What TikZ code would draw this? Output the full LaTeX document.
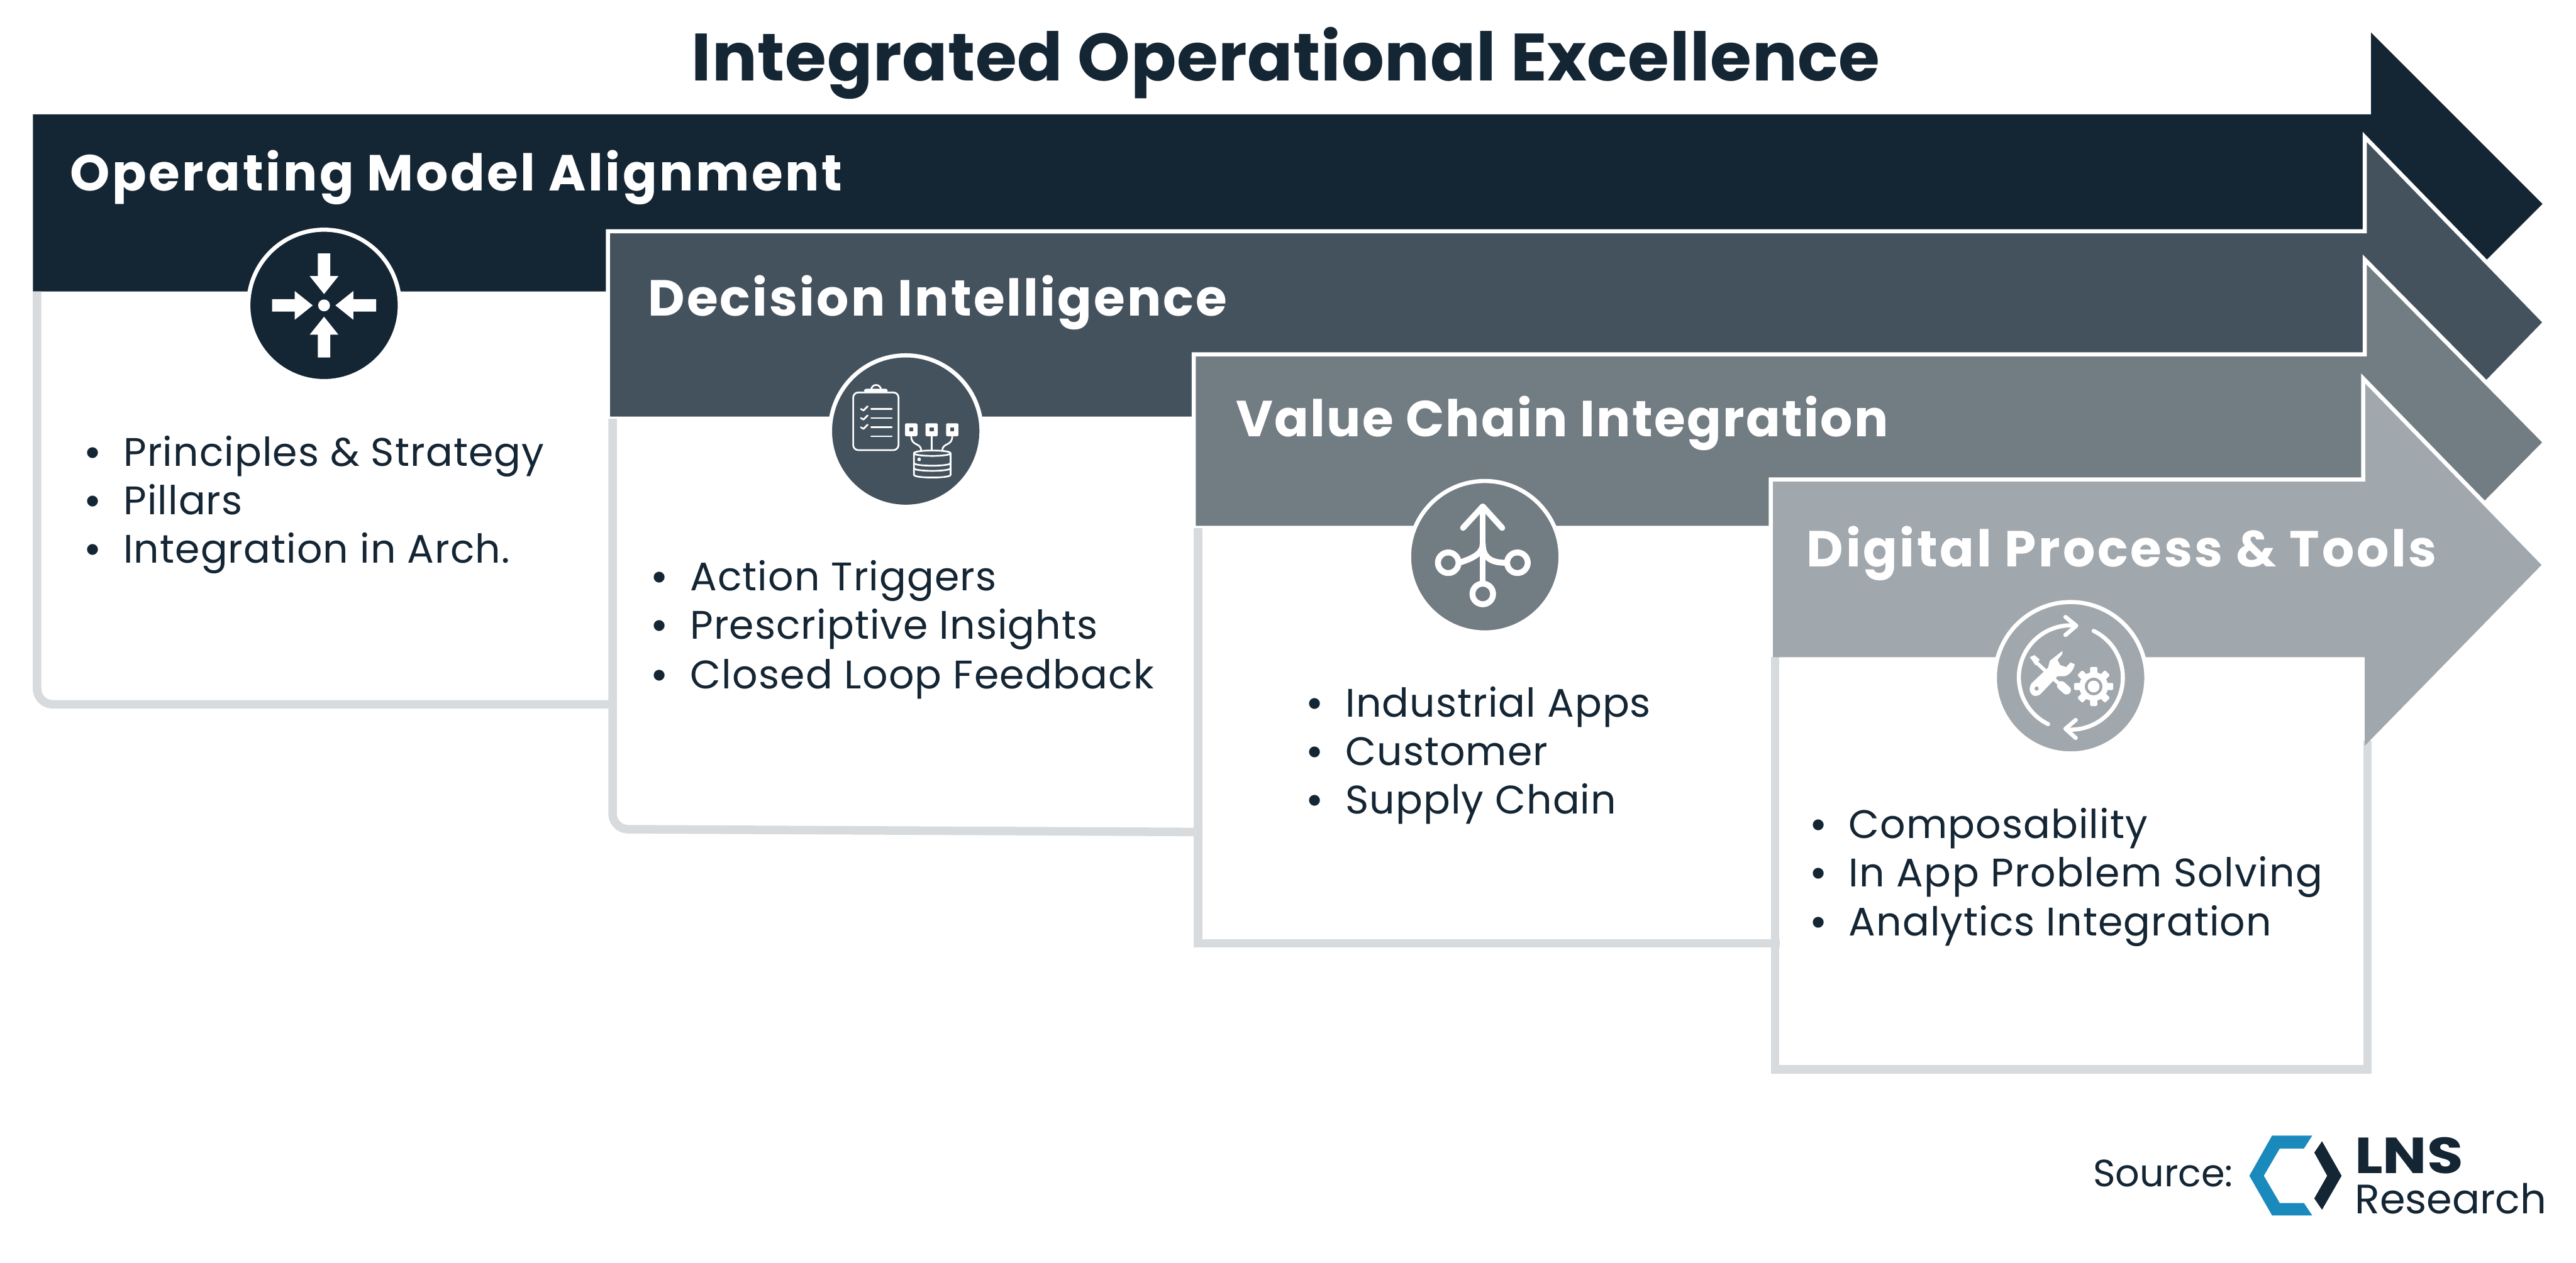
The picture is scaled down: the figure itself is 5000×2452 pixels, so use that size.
\documentclass[tikz,border=0pt]{standalone}
\usepackage{fontspec}
\setmainfont{Poppins}
\newfontfamily\dotfont{Liberation Sans}
\usetikzlibrary{%
  positioning
 ,calc
}
\definecolor{navy}{HTML}{142534}
\definecolor{slate}{HTML}{44525E}
\definecolor{steel}{HTML}{727C83}
\definecolor{mist}{HTML}{A0A7AD}
\definecolor{rim}{HTML}{D7DBDE}
\definecolor{logoblue}{HTML}{1A8ABD}
\newcommand{\itemgap}{\makebox[7.3mm][l]{\dotfont •}}
\tikzstyle{ttl}=[anchor=base west,inner sep=0pt,text=navy,font=\fontsize{37}{40}\selectfont\bfseries\addfontfeature{LetterSpace=0.7}]
\tikzstyle{hd}[3.6]=[anchor=base west,inner sep=0pt,text=white,font=\fontsize{28}{30}\selectfont\bfseries\addfontfeature{LetterSpace=#1}]
\tikzstyle{itm}[1.7]=[anchor=base west,inner sep=0pt,text=navy,font=\fontsize{22}{24}\selectfont\addfontfeature{LetterSpace=#1}]
\tikzstyle{src}=[anchor=base west,inner sep=0pt,text=navy]
\tikzstyle{bnd}=[draw=white,line width=0.8mm,miter limit=20]
\tikzstyle{edge}=[draw=rim,line width=1.65mm]
\tikzstyle{disc}=[circle,draw=white,line width=0.8mm,inner sep=0pt,minimum size=29.4cm/10]
\tikzstyle{ico}=[draw=white,line cap=round,line join=round]
\begin{document}
\begin{tikzpicture}[x=0.1mm,y=-0.1mm]
      \path[fill=white,use as bounding box] (0,0) rectangle (5000,2452);
      \node[ttl] (t_0) at (1342,157) {Integrated Operational Excellence};

      \fill[navy] (64,222) -- (4602,222) -- (4602,63) -- (4935,396) -- (4602,729) -- (4602,566) -- (64,566) -- cycle;
      \draw[edge,rounded corners=3mm] (72,566) -- (72,1367.5) -- (1197,1367.5);
      \node[disc,fill=navy] (c_1) at (629,593) {};
      \node[hd=4.5] (h_1) at (135,370) {Operating Model Alignment};
      \node[itm] (i_1) at (166,905) {\itemgap Principles \& Strategy};
      \node[itm] (i_2) at (166,999) {\itemgap Pillars};
      \node[itm] (i_3) at (166,1093) {\itemgap Integration in Arch.};
      \begin{scope}[shift={(c_1.center)}]
        \foreach \ang in {0,90,180,270}
          \fill[white,rotate=\ang] (-12,-101) -- (12,-101) -- (12,-57) -- (28,-57) -- (0,-22) -- (-28,-57) -- (-12,-57) -- cycle;
        \fill[white] (0,0) circle (11.5);
      \end{scope}

      \fill[slate,bnd] (1180,449) -- (4590,449) -- (4590,266) -- (4940,626) -- (4590,986) -- (4590,813) -- (1180,813) -- cycle;
      \draw[edge,rounded corners=3mm] (1189,813) -- (1189,1610) -- (2334,1615.5);
      \node[disc,fill=slate] (c_2) at (1758,837) {};
      \node[hd=3.9] (h_2) at (1257,613) {Decision Intelligence};
      \node[itm] (i_4) at (1266,1147) {\itemgap Action Triggers};
      \node[itm] (i_5) at (1266,1241) {\itemgap Prescriptive Insights};
      \node[itm=2.1] (i_6) at (1266,1337) {\itemgap Closed Loop Feedback};
      \begin{scope}[shift={(c_2.center)},ico,line width=0.33mm]
        \draw[rounded corners=1mm] (-102,-75) rectangle (-14,37);
        \fill[white,rounded corners=0.4mm] (-81,-82) rectangle (-35,-75);
        \draw (-67,-80) arc[start angle=180,end angle=360,radius=9.5];
        \foreach \yy in {-43,-25.3,-7.3} {
          \draw (-87,\yy) -- (-82,\yy+3) -- (-74,\yy-5);
          \draw (-67,\yy) -- (-27,\yy);
        }
        \draw (-67,10.3) -- (-27,10.3);
        \foreach \xx in {10.7,50.3,90.3} {
          \fill[white,rounded corners=0.2mm] (\xx-12,-15) rectangle (\xx+12,10);
          \fill[slate] (\xx-4,-7) rectangle (\xx+4,1);
        }
        \draw (50.3,10) -- (50.3,38);
        \draw (10.7,10) .. controls (10.7,30) and (30,22) .. (30,38);
        \draw (90.3,10) .. controls (90.3,30) and (71,22) .. (71,38);
        \draw (16,43) .. controls (16,36) and (87,36) .. (87,43) .. controls (87,50) and (16,50) .. (16,43);
        \draw (16,43) -- (16,85) .. controls (16,92) and (87,92) .. (87,85) -- (87,43);
        \draw (16,62) .. controls (16,69) and (87,69) .. (87,62);
        \draw (16,72) .. controls (16,79) and (87,79) .. (87,72);
        \fill[white] (26,55) circle (3.5);
      \end{scope}

      \fill[steel,bnd] (2317,688) -- (4590,688) -- (4590,504) -- (4940,859) -- (4590,1214) -- (4590,1025) -- (2317,1025) -- cycle;
      \draw[edge] (2325.5,1025) -- (2325.5,1831.5) -- (3454,1831.5);
      \node[disc,fill=steel] (c_3) at (2882,1081) {};
      \node[hd=2.9] (h_3) at (2398,848) {Value Chain Integration};
      \node[itm] (i_7) at (2538,1392) {\itemgap Industrial Apps};
      \node[itm] (i_8) at (2538,1486) {\itemgap Customer};
      \node[itm] (i_9) at (2538,1580) {\itemgap Supply Chain};
      \begin{scope}[shift={(c_3.center)},ico,line width=1.15mm]
        \draw (-42.3,-56) -- (-4,-97.7) -- (33.7,-56);
        \draw (-4,-97) -- (-4,47);
        \draw (-4,72.3) circle (20);
        \draw (-71,11.7) circle (20);
        \draw (63.3,11.7) circle (20);
        \draw (-47,10.7) .. controls (-20,2) and (-4,-8) .. (-4,-25);
        \draw (37.7,11.7) .. controls (10,11) and (-4,0) .. (-4,-25);
      \end{scope}

      \draw[edge] (3445.5,1276) -- (3445.5,2076.5) -- (4595.5,2076.5) -- (4595.5,1438);
      \fill[mist] (3437,931) -- (4587,931) -- (4587,735) -- (4935,1095) -- (4590,1448) -- (4590,1276) -- (3437,1276) -- cycle;
      \draw[bnd] (3437,1276) -- (3437,931) -- (4587,931) -- (4587,735) -- (4937,1095);
      \node[disc,fill=mist] (c_4) at (4019,1316) {};
      \node[hd=4.6] (h_4) at (3506,1100) {Digital Process \& Tools};
      \node[itm] (i_10) at (3515,1628) {\itemgap Composability};
      \node[itm=2.3] (i_11) at (3515,1722) {\itemgap In App Problem Solving};
      \node[itm] (i_12) at (3515,1817) {\itemgap Analytics Integration};
      \begin{scope}[shift={(c_4.center)},ico,line width=0.8mm]
        \draw (-43.7,90) arc[start angle=116,end angle=275,radius=101];
        \draw (-10,-118) -- (11,-101) -- (-10,-83);
        \draw (44.7,-91) arc[start angle=-64,end angle=95,radius=101];
        \draw (10,82) -- (-10,99) -- (10,117);
        \fill[white] (-16,-52) -- (-40.3,-33) -- (-43.7,-19.7) -- (-75.3,10.3) .. controls (-80,15) and (-80,25) .. (-78.7,27) .. controls (-76,33) and (-72,35.3) .. (-68.7,35.3) .. controls (-65,35.3) and (-61,34) .. (-58.7,32) -- (-25.3,-3) -- (-12,-3) .. controls (-2,-5) and (6,-15) .. (8,-26.3) -- (-0.3,-29.7) -- (-8.7,-20.7) -- (-20.3,-24.7) -- (-25.3,-34.7) -- (-16,-46.3) -- cycle;
        \fill[mist] (-66,21) circle (4);
        \draw[line width=0.7mm,line cap=butt] (-70,-33) -- (-42,-7);
        \draw[line width=0.7mm,line cap=butt] (-32,3) -- (-24,10);
        \draw[line width=1.7mm] (-18,15) -- (-8,24);
        \fill[white] (-79,-40) -- (-70,-44) -- (-60,-35) -- (-68,-24) -- cycle;
        \begin{scope}[shift={(44.7,17)}]
          \foreach \ang in {0,45,...,315}
            \fill[white,rotate=\ang,rounded corners=0.2mm] (-7,-38) rectangle (7,-20);
          \fill[white] (0,0) circle (28);
          \fill[mist] (0,0) circle (17);
          \fill[white] (0,0) circle (11.5);
        \end{scope}
      \end{scope}

      \node[src,font=\fontsize{21}{24}\selectfont] (s_0) at (4062,2304) {Source:};
      \fill[logoblue] (4410,2205) -- (4488,2205) -- (4472,2230) -- (4425,2230) -- (4394,2283) -- (4425,2336) -- (4472,2336) -- (4488,2360) -- (4410,2360) -- (4366,2283) -- cycle;
      \fill[navy] (4507,2216) -- (4545,2283) -- (4507,2349) -- (4492,2327) -- (4517,2283) -- (4492,2238) -- cycle;
      \node[src,font=\fontsize{28}{30}\selectfont\bfseries] (s_1) at (4570,2279) {\scalebox{1.16}[1]{LNS}};
      \node[src,font=\fontsize{22.7}{26}\selectfont] (s_2) at (4570,2356) {Research};
\end{tikzpicture}
\end{document}
